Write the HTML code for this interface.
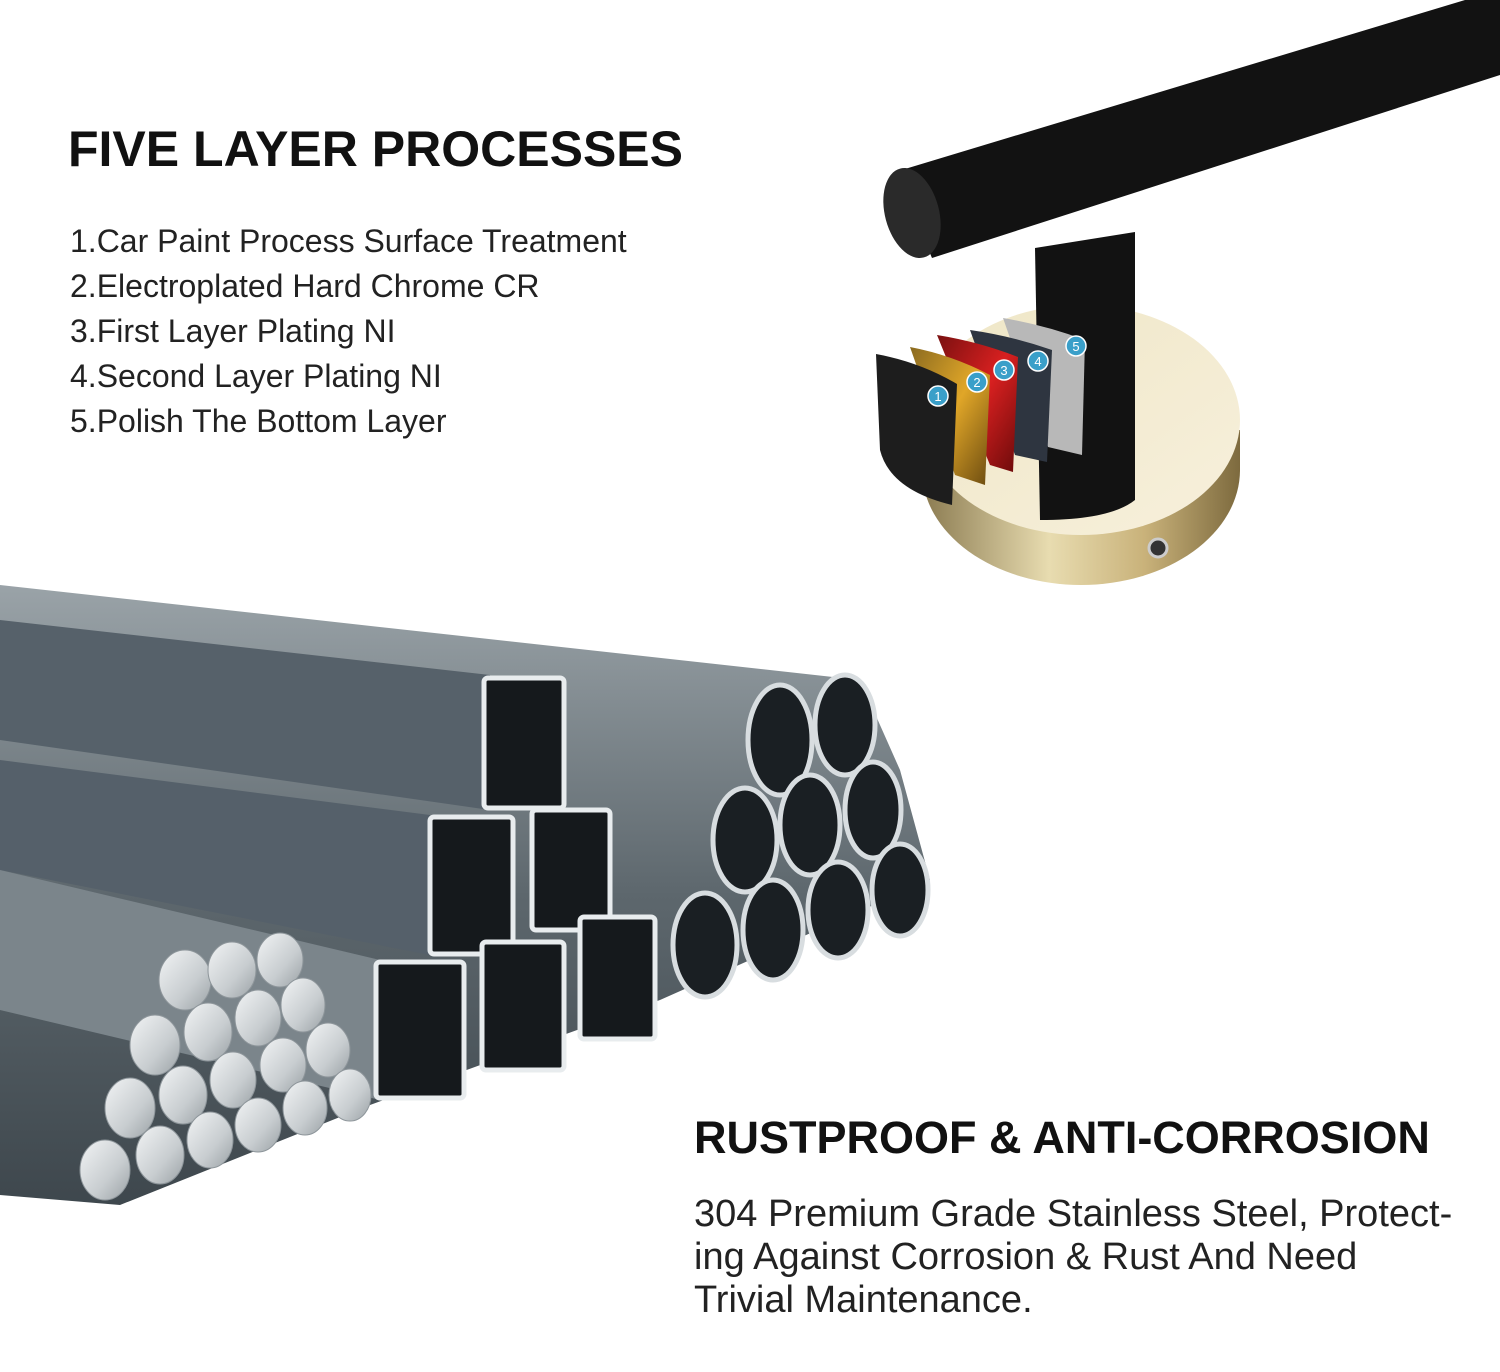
<!DOCTYPE html>
<html><head><meta charset="utf-8"><style>
html,body{margin:0;padding:0;background:#fff;}
body{width:1500px;height:1372px;position:relative;overflow:hidden;font-family:"Liberation Sans",sans-serif;}
.t{position:absolute;white-space:nowrap;color:#111;}
</style></head><body>
<svg width="1500" height="1372" style="position:absolute;left:0;top:0">
<defs>
<linearGradient id="gold" x1="0" y1="0" x2="1" y2="0">
<stop offset="0" stop-color="#8a7a50"/><stop offset=".4" stop-color="#e8dcb0"/><stop offset=".7" stop-color="#c9b27a"/><stop offset="1" stop-color="#7d6a3e"/></linearGradient>
<linearGradient id="goldface" x1="0" y1="0" x2="1" y2="1">
<stop offset="0" stop-color="#efe6c6"/><stop offset="1" stop-color="#f7f0dc"/></linearGradient>
<linearGradient id="steel" x1="0" y1="0" x2="0" y2="1">
<stop offset="0" stop-color="#9aa3a8"/><stop offset=".5" stop-color="#5d676d"/><stop offset="1" stop-color="#3e474d"/></linearGradient>
<linearGradient id="rod" x1="0" y1="0" x2="1" y2="1">
<stop offset="0" stop-color="#f2f4f5"/><stop offset=".6" stop-color="#c8cdd0"/><stop offset="1" stop-color="#9aa1a5"/></linearGradient>
<linearGradient id="p2" x1="0" y1="0" x2="1" y2="1"><stop offset="0" stop-color="#8a6a20"/><stop offset=".5" stop-color="#e0a628"/><stop offset="1" stop-color="#6a4a10"/></linearGradient>
<linearGradient id="p3" x1="0" y1="0" x2="1" y2="1"><stop offset="0" stop-color="#7a1010"/><stop offset=".5" stop-color="#d82020"/><stop offset="1" stop-color="#6a0a0a"/></linearGradient>
</defs>
<!-- black bar -->
<polygon points="895,172 1465,0 1500,0 1500,75 932,258" fill="#121212"/>
<ellipse cx="912" cy="213" rx="27" ry="46" transform="rotate(-15 912 213)" fill="#2a2a2a"/>
<!-- base -->
<path d="M922,430 L922,470 A160,118 0 0 0 1240,470 L1240,430 Z" fill="url(#gold)"/>
<ellipse cx="1081" cy="470" rx="159" ry="115" fill="url(#gold)"/>
<ellipse cx="1081" cy="420" rx="159" ry="115" fill="url(#goldface)"/>
<circle cx="1158" cy="548" r="9" fill="#333" stroke="#ccc" stroke-width="3"/>
<!-- post -->
<path d="M1035,248 L1135,232 L1135,500 Q1110,520 1040,520 Z" fill="#121212"/>
<!-- panels -->
<path d="M1003,318 Q1045,325 1085,340 L1082,455 L1048,447 Z" fill="#b8b8b8"/>
<path d="M970,330 Q1012,336 1052,350 L1047,462 L1015,455 Z" fill="#2e3540"/>
<path d="M937,335 Q980,342 1018,357 L1013,472 L990,465 Z" fill="url(#p3)"/>
<path d="M910,347 Q952,355 990,375 L985,485 L955,475 Z" fill="url(#p2)"/>
<path d="M876,354 Q920,362 957,384 L952,505 Q890,490 880,450 Z" fill="#1d1d1d"/>
<g fill="#3a9fc9" stroke="#fff" stroke-width="1.5">
<circle cx="938" cy="396" r="10"/><circle cx="977" cy="382" r="10"/><circle cx="1004" cy="370" r="10"/><circle cx="1038" cy="361" r="10"/><circle cx="1076" cy="346" r="10"/>
</g>
<g fill="#fff" font-family="Liberation Sans" font-size="13" text-anchor="middle">
<text x="938" y="401">1</text><text x="977" y="387">2</text><text x="1004" y="375">3</text><text x="1038" y="366">4</text><text x="1076" y="351">5</text></g>
<!-- tubes mass -->
<polygon points="0,585 860,680 900,770 930,880 660,1000 370,1105 120,1205 0,1195" fill="url(#steel)"/>
<polygon points="0,620 490,675 490,810 0,740" fill="#56616a"/>
<polygon points="0,760 430,815 430,955 0,870" fill="#55606a"/>
<polygon points="0,870 380,960 380,1100 0,1010" fill="#7b858b"/>
<g fill="#15191c" stroke="#e8ecee" stroke-width="5">
<rect x="484" y="678" width="80" height="130" rx="4"/>
<rect x="430" y="817" width="83" height="137" rx="4"/>
<rect x="532" y="810" width="78" height="120" rx="4"/>
<rect x="376" y="962" width="88" height="136" rx="4"/>
<rect x="482" y="942" width="82" height="128" rx="4"/>
<rect x="580" y="917" width="75" height="122" rx="4"/>
</g>
<g fill="#1a1f23" stroke="#d8dde0" stroke-width="5">
<ellipse cx="780" cy="740" rx="32" ry="55"/><ellipse cx="845" cy="725" rx="30" ry="50"/>
<ellipse cx="745" cy="840" rx="32" ry="52"/><ellipse cx="810" cy="825" rx="30" ry="50"/><ellipse cx="873" cy="810" rx="28" ry="48"/>
<ellipse cx="705" cy="945" rx="32" ry="52"/><ellipse cx="773" cy="930" rx="30" ry="50"/><ellipse cx="838" cy="910" rx="30" ry="48"/><ellipse cx="900" cy="890" rx="28" ry="46"/>
</g>
<g fill="url(#rod)" stroke="#8d959a" stroke-width="1">
<ellipse cx="185" cy="980" rx="26" ry="30"/><ellipse cx="232" cy="970" rx="24" ry="28"/><ellipse cx="280" cy="960" rx="23" ry="27"/>
<ellipse cx="155" cy="1045" rx="25" ry="30"/><ellipse cx="208" cy="1032" rx="24" ry="29"/><ellipse cx="258" cy="1018" rx="23" ry="28"/><ellipse cx="303" cy="1005" rx="22" ry="27"/>
<ellipse cx="130" cy="1108" rx="25" ry="30"/><ellipse cx="183" cy="1095" rx="24" ry="29"/><ellipse cx="233" cy="1080" rx="23" ry="28"/><ellipse cx="283" cy="1065" rx="23" ry="27"/><ellipse cx="328" cy="1050" rx="22" ry="27"/>
<ellipse cx="105" cy="1170" rx="25" ry="30"/><ellipse cx="160" cy="1155" rx="24" ry="29"/><ellipse cx="210" cy="1140" rx="23" ry="28"/><ellipse cx="258" cy="1125" rx="23" ry="27"/><ellipse cx="305" cy="1108" rx="22" ry="27"/><ellipse cx="350" cy="1095" rx="21" ry="26"/>
</g>
</svg>
<div class="t" style="left:68px;top:120px;font-size:50px;font-weight:bold;">FIVE LAYER PROCESSES</div>
<div class="t" style="left:70px;top:219px;font-size:32px;line-height:45px;color:#222;">1.Car Paint Process Surface Treatment<br>2.Electroplated Hard Chrome CR<br>3.First Layer Plating NI<br>4.Second Layer Plating NI<br>5.Polish The Bottom Layer</div>
<div class="t" style="left:694px;top:1112px;font-size:45px;font-weight:bold;">RUSTPROOF &amp; ANTI-CORROSION</div>
<div class="t" style="left:694px;top:1193px;font-size:38px;line-height:43px;color:#222;">304 Premium Grade Stainless Steel, Protect-<br>ing Against Corrosion &amp; Rust And Need<br>Trivial Maintenance.</div>
</body></html>
